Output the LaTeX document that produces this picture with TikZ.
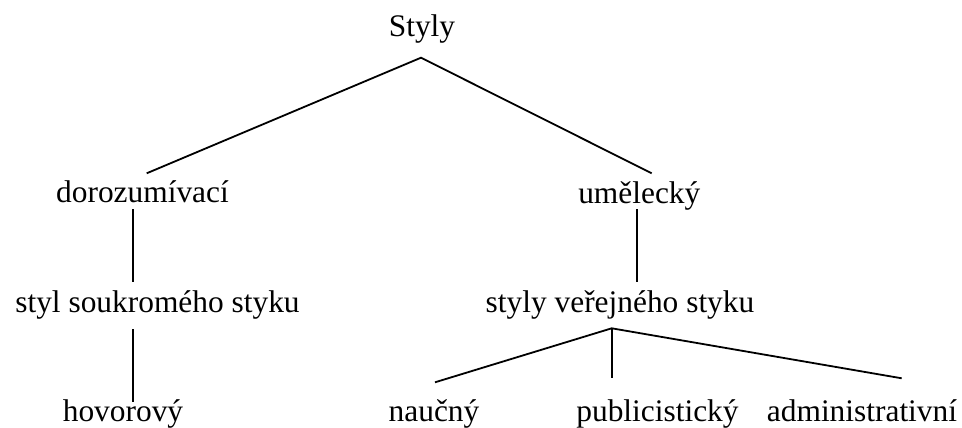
\documentclass[tikz,border=0pt]{standalone}
\usepackage{fontspec}
\setmainfont{Liberation Serif}
\begin{document}
\begin{tikzpicture}[x=1pt,y=-1pt,
  lbl/.style={anchor=base,inner sep=0pt,font=\fontsize{31.4}{36}\selectfont},
  edge/.style={line width=1.8pt,line cap=butt}]
\useasboundingbox (0,0) rectangle (962,428);

% labels, placed on their baselines
\node[lbl] (styly) at (422,36.7) {Styly};
\node[lbl] (doroz) at (142.5,202.7) {dorozumívací};
\node[lbl] (umel) at (639.3,203) {umělecký};
\node[lbl] (soukr) at (157.5,312.7) {styl soukromého styku};
\node[lbl] (verej) at (620,312.7) {styly veřejného styku};
\node[lbl] (hovor) at (123,421.7) {hovorový};
\node[lbl] (naucny) at (434,421.7) {naučný};
\node[lbl] (publ) at (657.5,421.7) {publicistický};
\node[lbl] (admin) at (862,421.7) {administrativní};

% connector end points
\coordinate (styly-b) at (421,57.7);
\coordinate (doroz-t) at (146.7,173.3);
\coordinate (umel-t) at (651.7,173.3);
\coordinate (doroz-b) at (132.7,209);
\coordinate (soukr-t) at (132.7,281.7);
\coordinate (umel-b) at (636.7,209);
\coordinate (verej-t) at (636.7,282);
\coordinate (soukr-b) at (132.7,329);
\coordinate (hovor-t) at (132.7,401.7);
\coordinate (verej-b) at (611.7,328.3);
\coordinate (naucny-t) at (435,382.3);
\coordinate (publ-t) at (611.7,378.3);
\coordinate (admin-t) at (901.7,378.3);

% tree edges
\draw[edge] (doroz-t) -- (styly-b) -- (umel-t);
\draw[edge] (doroz-b) -- (soukr-t);
\draw[edge] (umel-b) -- (verej-t);
\draw[edge] (soukr-b) -- (hovor-t);
\draw[edge] (naucny-t) -- (verej-b) -- (admin-t);
\draw[edge] (verej-b) -- (publ-t);
\end{tikzpicture}
\end{document}
